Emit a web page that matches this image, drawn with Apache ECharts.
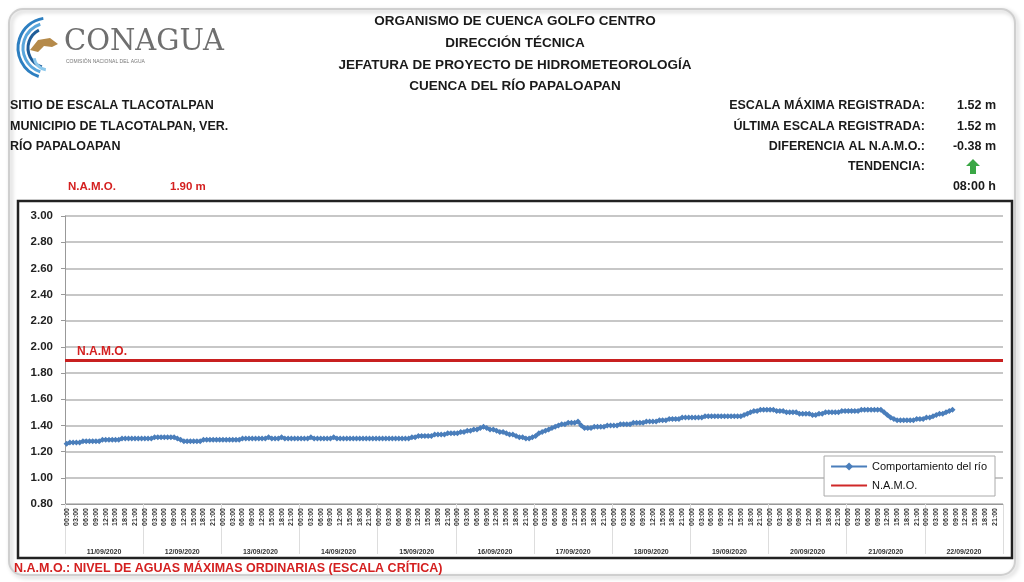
<!DOCTYPE html>
<html><head><meta charset="utf-8">
<script src="https://cdn.jsdelivr.net/npm/echarts@6/dist/echarts.min.js"></script>
<style>html,body{margin:0;padding:0;background:#fff}#c{width:1024px;height:582px}</style>
</head><body><div id="c"></div>
<script>
// ---- data ----
const days = ['11/09/2020','12/09/2020','13/09/2020','14/09/2020','15/09/2020','16/09/2020','17/09/2020','18/09/2020','19/09/2020','20/09/2020','21/09/2020','22/09/2020'];
const hours = ['00:00','01:00','02:00','03:00','04:00','05:00','06:00','07:00','08:00','09:00','10:00','11:00','12:00','13:00','14:00','15:00','16:00','17:00','18:00','19:00','20:00','21:00','22:00','23:00'];
const day11 = [1.26,1.27,1.27,1.27,1.27,1.28,1.28,1.28,1.28,1.28,1.28,1.29,1.29,1.29,1.29,1.29,1.29,1.30,1.30,1.30,1.30,1.30,1.30,1.30];
const day12 = [1.30,1.30,1.30,1.31,1.31,1.31,1.31,1.31,1.31,1.31,1.30,1.29,1.28,1.28,1.28,1.28,1.28,1.28,1.29,1.29,1.29,1.29,1.29,1.29];
const day13 = [1.29,1.29,1.29,1.29,1.29,1.29,1.30,1.30,1.30,1.30,1.30,1.30,1.30,1.30,1.31,1.30,1.30,1.30,1.31,1.30,1.30,1.30,1.30,1.30];
const day14 = [1.30,1.30,1.30,1.31,1.30,1.30,1.30,1.30,1.30,1.30,1.31,1.30,1.30,1.30,1.30,1.30,1.30,1.30,1.30,1.30,1.30,1.30,1.30,1.30];
const day15 = [1.30,1.30,1.30,1.30,1.30,1.30,1.30,1.30,1.30,1.30,1.31,1.31,1.32,1.32,1.32,1.32,1.32,1.33,1.33,1.33,1.33,1.34,1.34,1.34];
const day16 = [1.34,1.35,1.35,1.36,1.36,1.37,1.37,1.38,1.39,1.38,1.37,1.37,1.36,1.35,1.35,1.34,1.33,1.33,1.32,1.31,1.31,1.30,1.30,1.31];
const day17 = [1.32,1.34,1.35,1.36,1.37,1.38,1.39,1.40,1.41,1.41,1.42,1.42,1.42,1.43,1.40,1.38,1.38,1.38,1.39,1.39,1.39,1.39,1.40,1.40];
const day18 = [1.40,1.40,1.41,1.41,1.41,1.41,1.42,1.42,1.42,1.42,1.43,1.43,1.43,1.43,1.44,1.44,1.44,1.45,1.45,1.45,1.45,1.46,1.46,1.46];
const day19 = [1.46,1.46,1.46,1.46,1.47,1.47,1.47,1.47,1.47,1.47,1.47,1.47,1.47,1.47,1.47,1.47,1.48,1.49,1.50,1.51,1.51,1.52,1.52,1.52];
const day20 = [1.52,1.52,1.51,1.51,1.51,1.50,1.50,1.50,1.50,1.49,1.49,1.49,1.49,1.48,1.48,1.49,1.49,1.50,1.50,1.50,1.50,1.50,1.51,1.51];
const day21 = [1.51,1.51,1.51,1.51,1.52,1.52,1.52,1.52,1.52,1.52,1.52,1.50,1.48,1.46,1.45,1.44,1.44,1.44,1.44,1.44,1.44,1.45,1.45,1.45];
const day22 = [1.46,1.46,1.47,1.48,1.49,1.49,1.50,1.51,1.52];
const NAMO = 1.90;
const yTicks = {min: 0.8, max: 3.0, step: 0.2};

const categories = [];
days.forEach(d => hours.forEach(h => categories.push(d + ' ' + h)));
const river = [].concat(day11,day12,day13,day14,day15,day16,day17,day18,day19,day20,day21,day22);

const FF = '"Liberation Sans", Arial, sans-serif';
function T(x, y, text, opt) {
  opt = opt || {};
  return {type:'text', x:x, y:y, silent:true, style:{text:text, fill:opt.fill||'#1a1a1a', fontSize:opt.size||12,
    fontWeight:opt.weight||'bold', fontFamily:opt.family||FF, align:opt.align||'left', verticalAlign:'middle'}};
}

const chart = echarts.init(document.getElementById('c'));
const graphics = [
  {type:'rect', shape:{x:9, y:9, width:1006, height:566, r:14}, style:{fill:'none', stroke:'#cfcfcf', lineWidth:2, shadowBlur:4, shadowColor:'rgba(0,0,0,0.25)', shadowOffsetX:2, shadowOffsetY:2}, silent:true},
  {type:'rect', shape:{x:18, y:201, width:994, height:357}, style:{fill:'none', stroke:'#222', lineWidth:2.5}, silent:true, z:-1},
  // logo
  {type:'arc', shape:{cx:48, cy:48, r:30, startAngle:Math.PI*0.6, endAngle:Math.PI*1.45}, style:{stroke:'#2d7fc1', lineWidth:3, fill:'none'}, silent:true},
  {type:'arc', shape:{cx:48, cy:48, r:25, startAngle:Math.PI*0.6, endAngle:Math.PI*1.4}, style:{stroke:'#5aa6dc', lineWidth:3, fill:'none'}, silent:true},
  {type:'arc', shape:{cx:48, cy:48, r:20, startAngle:Math.PI*0.6, endAngle:Math.PI*1.35}, style:{stroke:'#1f5d99', lineWidth:3, fill:'none'}, silent:true},
  {type:'arc', shape:{cx:48, cy:56, r:14, startAngle:Math.PI*0.55, endAngle:Math.PI*0.95}, style:{stroke:'#8cc8ec', lineWidth:3, fill:'none'}, silent:true},
  {type:'polygon', shape:{points:[[30,50],[38,40],[50,38],[58,44],[52,47],[44,46],[38,52]]}, style:{fill:'#b58a4a'}, silent:true},
  T(64, 42, 'CONAGUA', {size:29, weight:'normal', fill:'#6f6f6f', family:'"DejaVu Serif", "Liberation Serif", serif'}),
  T(66, 62, 'COMISIÓN NACIONAL DEL AGUA', {size:5, weight:'normal', fill:'#777'}),
  // header
  T(515, 21, 'ORGANISMO DE CUENCA GOLFO CENTRO', {align:'center', size:13.5}),
  T(515, 43, 'DIRECCIÓN TÉCNICA', {align:'center', size:13.5}),
  T(515, 65, 'JEFATURA DE PROYECTO DE HIDROMETEOROLOGÍA', {align:'center', size:13.5}),
  T(515, 86, 'CUENCA DEL RÍO PAPALOAPAN', {align:'center', size:13.5}),
  T(10, 106, 'SITIO DE ESCALA TLACOTALPAN', {size:12.5}),
  T(10, 127, 'MUNICIPIO DE TLACOTALPAN, VER.', {size:12.5}),
  T(10, 147, 'RÍO PAPALOAPAN', {size:12.5}),
  T(68, 187, 'N.A.M.O.', {fill:'#d42020', size:11.5}),
  T(170, 187, '1.90 m', {fill:'#d42020', size:11.5}),
  T(925, 106, 'ESCALA MÁXIMA REGISTRADA:', {align:'right', size:12.5}),
  T(925, 127, 'ÚLTIMA ESCALA REGISTRADA:', {align:'right', size:12.5}),
  T(925, 147, 'DIFERENCIA AL N.A.M.O.:', {align:'right', size:12.5}),
  T(925, 167, 'TENDENCIA:', {align:'right', size:12.5}),
  T(996, 106, '1.52 m', {align:'right', size:12.5}),
  T(996, 127, '1.52 m', {align:'right', size:12.5}),
  T(996, 147, '-0.38 m', {align:'right', size:12.5}),
  T(996, 187, '08:00 h', {align:'right', size:12.5}),
  {type:'polygon', shape:{points:[[973,159],[980,166],[976,166],[976,174],[970,174],[970,166],[966,166]]}, style:{fill:'#3aa745'}, silent:true},
  T(14, 569, 'N.A.M.O.: NIVEL DE AGUAS MÁXIMAS ORDINARIAS (ESCALA CRÍTICA)', {fill:'#d42020', size:12.5})
];

chart.setOption({
  animation:false,
  backgroundColor:'#fff',
  graphic: graphics,
  grid:{left:65, right:21, top:216, bottom:78, containLabel:false},
  legend:{
    orient:'vertical', right:29, top:456, itemWidth:36, itemHeight:10, itemGap:8,
    backgroundColor:'#fff', borderColor:'#aaa', borderWidth:1, padding:[5,8,5,6],
    textStyle:{fontFamily:FF, fontSize:11, color:'#111'},
    data:[{name:'Comportamiento del río'}, {name:'N.A.M.O.', itemStyle:{opacity:0}}]
  },
  xAxis:[
    {type:'category', data:categories, gridIndex:0, position:'bottom', boundaryGap:true,
     axisLine:{show:true, lineStyle:{color:'#999'}},
     axisTick:{show:false},
     axisLabel:{interval:2, rotate:90, fontSize:7, fontWeight:'bold', fontFamily:FF, color:'#333', margin:4,
       formatter:v => v.split(' ')[1]},
     splitLine:{show:false}},
    {type:'category', data:days, gridIndex:0, position:'bottom', boundaryGap:true,
     axisLine:{show:false},
     axisTick:{show:true, length:50, lineStyle:{color:'#ddd'}},
     axisLabel:{fontSize:7, fontWeight:'bold', fontFamily:FF, color:'#333', margin:45},
     splitLine:{show:false}}
  ],
  yAxis:{type:'value', min:yTicks.min, max:yTicks.max, interval:yTicks.step,
    axisLine:{show:true, lineStyle:{color:'#999'}},
    axisTick:{show:true, length:4, lineStyle:{color:'#999'}},
    axisLabel:{formatter:v => v.toFixed(2), fontSize:11.5, fontWeight:'bold', fontFamily:FF, color:'#222', margin:12},
    splitLine:{lineStyle:{color:'#b5b5b5', width:1.5}}},
  series:[
    {name:'Comportamiento del río', type:'line', data:river, xAxisIndex:0,
     symbol:'diamond', symbolSize:6, showSymbol:true, showAllSymbol:true,
     itemStyle:{color:'#4a7ebb'}, lineStyle:{color:'#4a7ebb', width:3}, z:3},
    {name:'N.A.M.O.', type:'line', data:[], xAxisIndex:0, symbol:'none',
     itemStyle:{color:'#d02828'}, lineStyle:{color:'#d02828', width:3},
     markLine:{silent:true, symbol:['none','none'],
       lineStyle:{color:'#c82020', width:3, type:'solid'},
       label:{show:true, position:'insideStartTop', formatter:'N.A.M.O.', color:'#d42020', fontWeight:'bold', fontSize:12, fontFamily:FF, distance:[12,2]},
       data:[{yAxis:NAMO}]}}
  ]
});
</script></body></html>
